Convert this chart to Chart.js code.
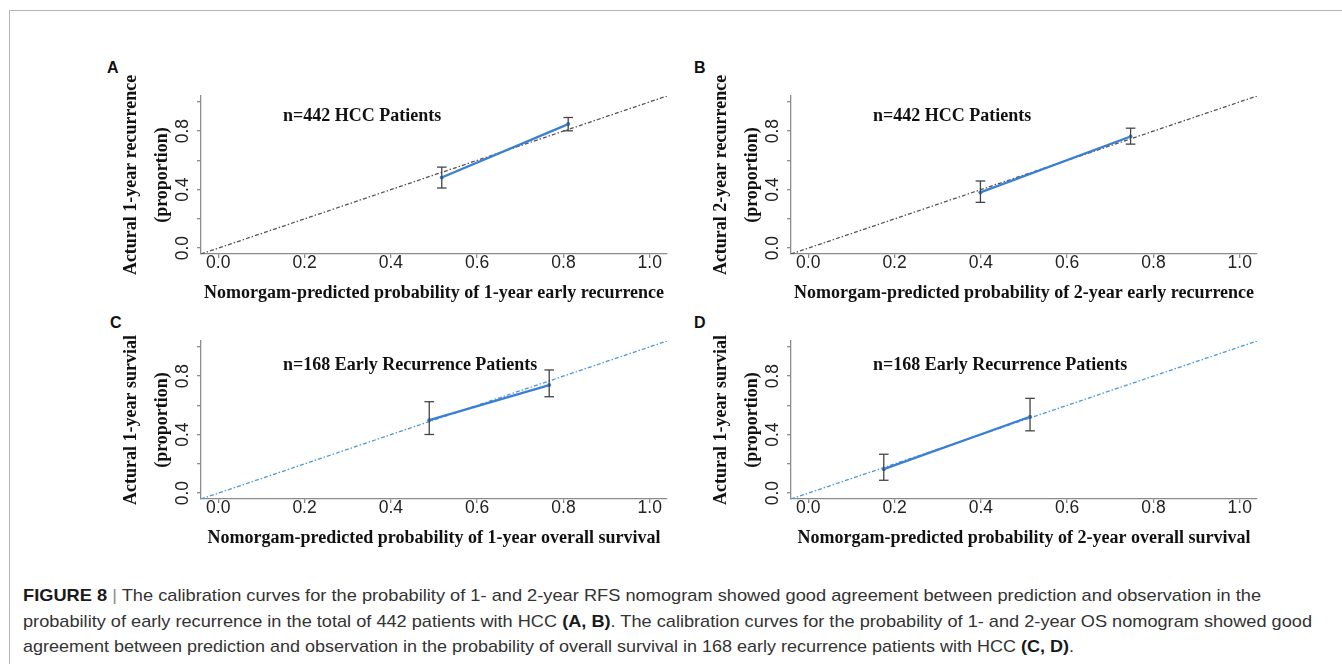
<!DOCTYPE html>
<html>
<head>
<meta charset="utf-8">
<title>Figure 8 - calibration curves</title>
<script src="https://cdn.jsdelivr.net/npm/chart.js@4.4.0/dist/chart.umd.min.js"></script>
<style>
  html, body { margin: 0; padding: 0; background: #fff; }
  body { width: 1342px; height: 664px; position: relative; overflow: hidden; }
  .rule-top { position: absolute; left: 9px; top: 10px; width: 1333px; border-top: 1.5px solid #b5b5b5; }
  .rule-left { position: absolute; left: 9px; top: 10px; height: 654px; border-left: 1.5px solid #b5b5b5; }
  canvas.panel { position: absolute; }
  .tag { position: absolute; font: bold 16px "Liberation Sans", Arial, sans-serif; line-height: 16px; color: #111; }
  .caption { position: absolute; left: 23px; top: 583px; font: 17px "Liberation Sans", Arial, sans-serif; color: #333; line-height: 25.5px; }
  .caption div { white-space: nowrap; width: max-content; transform-origin: 0 50%; }
  .caption b { color: #1a1a1a; }
  .caption .sep { color: #8a8a8a; }
</style>
</head>
<body>
<div class="rule-top"></div>
<div class="rule-left"></div>

<div class="tag" style="left:107px; top:60px;">A</div>
<div class="tag" style="left:694px; top:60px;">B</div>
<div class="tag" style="left:110px; top:315px;">C</div>
<div class="tag" style="left:694px; top:315px;">D</div>

<canvas class="panel" id="panelA" width="620" height="265" style="left:60px; top:50px;"></canvas>
<canvas class="panel" id="panelB" width="620" height="265" style="left:650px; top:50px;"></canvas>
<canvas class="panel" id="panelC" width="620" height="265" style="left:60px; top:295px;"></canvas>
<canvas class="panel" id="panelD" width="620" height="265" style="left:650px; top:295px;"></canvas>

<div class="caption">
  <div><b>FIGURE 8</b> <span class="sep">|</span> The calibration curves for the probability of 1- and 2-year RFS nomogram showed good agreement between prediction and observation in the</div>
  <div>probability of early recurrence in the total of 442 patients with HCC <b>(A, B)</b>. The calibration curves for the probability of 1- and 2-year OS nomogram showed good</div>
  <div>agreement between prediction and observation in the probability of overall survival in 168 early recurrence patients with HCC <b>(C, D)</b>.</div>
</div>

<script>
// axis setup shared by all four panels
const axisMin = -0.04;
const axisMax = 1.04;
const tickValues = [0, 0.2, 0.4, 0.6, 0.8, 1.0];
const xTickLabels = ['0.0', '0.2', '0.4', '0.6', '0.8', '1.0'];
const yTickLabels = ['0.0', '', '0.4', '', '0.8', ''];
const idealLine = [-0.04, 1.04];

// A: 1-year recurrence, 442 HCC patients
const predA = [0.518, 0.811];
const obsA = [0.483, 0.848];
const lowA = [0.411, 0.802];
const highA = [0.554, 0.893];

// B: 2-year recurrence, 442 HCC patients
const predB = [0.399, 0.747];
const obsB = [0.381, 0.763];
const lowB = [0.313, 0.711];
const highB = [0.459, 0.820];

// C: 1-year survival, 168 early recurrence patients
const predC = [0.489, 0.767];
const obsC = [0.499, 0.739];
const lowC = [0.401, 0.659];
const highC = [0.625, 0.842];

// D: 2-year survival, 168 early recurrence patients
const predD = [0.175, 0.514];
const obsD = [0.164, 0.522];
const lowD = [0.088, 0.426];
const highD = [0.266, 0.648];

const axisColor = '#8c8c8c';
const serif = '"Liberation Serif", "Times New Roman", serif';
const sans = '"Liberation Sans", Arial, sans-serif';

// rotated y tick labels (R style), placed with the y scale
const yTickText = {
    id: 'yTickText',
    afterDraw(chart) {
        const s = chart.scales.y;
        const ctx = chart.ctx;
        ctx.save();
        ctx.font = '17.5px ' + sans;
        ctx.fillStyle = '#222';
        ctx.textAlign = 'center';
        ctx.textBaseline = 'middle';
        tickValues.forEach((v, i) => {
            if (!yTickLabels[i]) return;
            ctx.save();
            ctx.translate(chart.chartArea.left - 18, s.getPixelForValue(v));
            ctx.rotate(-Math.PI / 2);
            ctx.fillText(yTickLabels[i], 0, 0);
            ctx.restore();
        });
        ctx.restore();
    }
};

// "n=... Patients" note inside the plot
const panelNote = {
    id: 'panelNote',
    afterDatasetsDraw(chart, args, opts) {
        if (!opts.text) return;
        const ctx = chart.ctx;
        ctx.save();
        ctx.font = 'bold 18px ' + serif;
        ctx.fillStyle = '#111';
        ctx.textAlign = 'left';
        ctx.textBaseline = 'middle';
        ctx.fillText(opts.text, chart.scales.x.getPixelForValue(opts.x), chart.scales.y.getPixelForValue(opts.y));
        ctx.restore();
    }
};

Chart.register(yTickText, panelNote);

function makePanel(canvasId, p) {
    const calib = p.pred.map((x, i) => ({ x: x, y: p.obs[i] }));
    const bars = [];
    p.pred.forEach((x, i) => {
        if (i > 0) bars.push({ x: x, y: null });
        bars.push({ x: x, y: p.low[i] }, { x: x, y: p.high[i] });
    });
    const ideal = idealLine.map(v => ({ x: v, y: v }));

    new Chart(document.getElementById(canvasId), {
        type: 'line',
        data: {
            datasets: [
                {
                    data: bars,
                    borderColor: '#444',
                    borderWidth: 1.3,
                    pointStyle: 'line',
                    pointRadius: 4.8,
                    pointBorderWidth: 1.3,
                    pointBorderColor: '#444',
                    spanGaps: false,
                    fill: false
                },
                {
                    data: calib,
                    borderColor: '#3a7fd5',
                    borderWidth: 2.3,
                    pointRadius: 2,
                    pointBackgroundColor: '#3a7fd5',
                    pointBorderWidth: 0,
                    fill: false
                },
                {
                    data: ideal,
                    borderColor: p.diagColor,
                    borderWidth: 1.3,
                    borderDash: [4, 2, 1.5, 2],
                    pointRadius: 0,
                    fill: false
                }
            ]
        },
        options: {
            responsive: false,
            animation: false,
            events: [],
            layout: { padding: { top: 46, right: 13, left: 0, bottom: 0 } },
            plugins: {
                legend: { display: false },
                tooltip: { enabled: false },
                panelNote: { text: p.note, x: 0.15, y: p.noteY }
            },
            scales: {
                x: {
                    type: 'linear',
                    min: axisMin,
                    max: axisMax,
                    afterBuildTicks: s => { s.ticks = tickValues.map(v => ({ value: v })); },
                    afterFit: s => { s.height = 61; },
                    grid: { drawOnChartArea: false, drawTicks: true, tickLength: 4, color: axisColor, lineWidth: 1.3 },
                    border: { display: true, color: axisColor, width: 1.3 },
                    ticks: {
                        padding: -4,
                        color: '#222',
                        maxRotation: 0,
                        autoSkip: false,
                        font: { family: sans, size: 17.5, lineHeight: 1 },
                        callback: (v, i) => xTickLabels[i]
                    },
                    title: {
                        display: true,
                        text: p.xTitle,
                        color: '#111',
                        font: { family: serif, size: 18, weight: 'bold', lineHeight: 1.2 },
                        padding: { top: 0, bottom: 11 }
                    }
                },
                y: {
                    type: 'linear',
                    min: axisMin,
                    max: axisMax,
                    afterBuildTicks: s => { s.ticks = tickValues.map(v => ({ value: v })); },
                    afterFit: s => { s.width = 141; },
                    grid: { drawOnChartArea: false, drawTicks: true, tickLength: 4, color: axisColor, lineWidth: 1.3 },
                    border: { display: true, color: axisColor, width: 1.3 },
                    ticks: { display: false },
                    title: {
                        display: true,
                        text: p.yTitle,
                        color: '#111',
                        font: { family: serif, size: 18, weight: 'bold', lineHeight: 1.7 },
                        padding: { top: 56.4, bottom: 0 }
                    }
                }
            }
        }
    });
}

makePanel('panelA', {
    pred: predA, obs: obsA, low: lowA, high: highA, diagColor: '#555',
    note: 'n=442 HCC Patients', noteY: 0.9,
    yTitle: ['Actural 1-year recurrence', '(proportion)'],
    xTitle: 'Nomorgam-predicted probability of 1-year early recurrence'
});
makePanel('panelB', {
    pred: predB, obs: obsB, low: lowB, high: highB, diagColor: '#555',
    note: 'n=442 HCC Patients', noteY: 0.9,
    yTitle: ['Actural 2-year recurrence', '(proportion)'],
    xTitle: 'Nomorgam-predicted probability of 2-year early recurrence'
});
makePanel('panelC', {
    pred: predC, obs: obsC, low: lowC, high: highC, diagColor: '#4a98dc',
    note: 'n=168 Early Recurrence Patients', noteY: 0.875,
    yTitle: ['Actural 1-year survial', '(proportion)'],
    xTitle: 'Nomorgam-predicted probability of 1-year overall survival'
});
makePanel('panelD', {
    pred: predD, obs: obsD, low: lowD, high: highD, diagColor: '#4a98dc',
    note: 'n=168 Early Recurrence Patients', noteY: 0.875,
    yTitle: ['Actural 1-year survial', '(proportion)'],
    xTitle: 'Nomorgam-predicted probability of 2-year overall survival'
});

// stretch each caption line to the width it has in the figure
const captionWidths = [1238, 1289, 1051];
document.querySelectorAll('.caption div').forEach((line, i) => {
    const w = line.getBoundingClientRect().width;
    line.style.transform = 'scaleX(' + (captionWidths[i] / w).toFixed(4) + ')';
});
</script>
</body>
</html>
